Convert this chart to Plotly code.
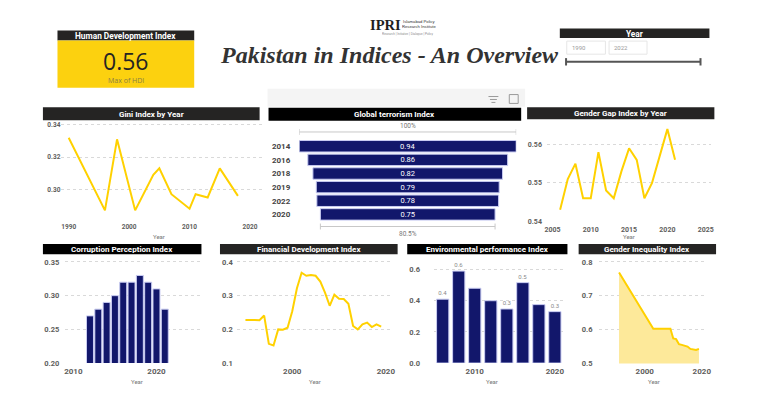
import plotly.graph_objects as go

W, H = 760, 393

# ---------------- data ----------------
hdi_max = 0.56

gini_years = [1990, 1996, 1998, 2001, 2004, 2005, 2007, 2010, 2011, 2013, 2015, 2018]
gini_values = [0.332, 0.287, 0.331, 0.287, 0.309, 0.313, 0.297, 0.288, 0.297, 0.295, 0.313, 0.296]

gti_years = ["2014", "2016", "2018", "2019", "2022", "2020"]
gti_values = [0.936, 0.862, 0.818, 0.789, 0.784, 0.7535]

ggi_years = list(range(2006, 2022))
ggi_values = [0.543, 0.551, 0.555, 0.546, 0.546, 0.558, 0.548, 0.546,
              0.553, 0.559, 0.556, 0.546, 0.550, 0.557, 0.564, 0.556]

cpi_years = list(range(2012, 2022))
cpi_values = [0.27, 0.28, 0.29, 0.30, 0.32, 0.32, 0.33, 0.32, 0.31, 0.28]

fdi_years = list(range(1990, 2020))
fdi_values = [0.228, 0.229, 0.228, 0.227, 0.241, 0.157, 0.152, 0.200, 0.199, 0.205,
              0.254, 0.322, 0.368, 0.359, 0.361, 0.359, 0.342, 0.309, 0.270, 0.303,
              0.291, 0.290, 0.276, 0.210, 0.200, 0.215, 0.220, 0.207, 0.215, 0.208]

epi_years = [2006, 2008, 2010, 2012, 2014, 2016, 2018, 2020]
epi_values = [0.41, 0.59, 0.48, 0.40, 0.347, 0.516, 0.375, 0.33]

gii_years = [1991, 2003, 2009, 2010, 2011, 2012, 2013, 2015, 2016, 2018, 2019]
gii_values = [0.769, 0.602, 0.602, 0.573, 0.571, 0.556, 0.554, 0.549, 0.542, 0.539, 0.542]

year_slicer = ["1990", "2022"]

# ---------------- style ----------------
YELLOW = "#FFD100"
NAVY = "#12176B"
HDR = "#252423"
FONT = "Roboto"
TICKC = "#605E5C"
GRID = "#D9D9D9"

# which EPI bars carry a data label (as in the source visual)
epi_label_on = [True, True, False, False, True, True, False, True]


def px_x(p):
    return p / W


def px_y(p):
    return 1 - p / H


def lin(p0, v0, p1, v1):
    return lambda p: v0 + (p - p0) * (v1 - v0) / (p1 - p0)


def xax(left, right, cal, **kw):
    f = lin(*cal)
    d = dict(domain=[px_x(left), px_x(right)], range=[f(left), f(right)],
             showgrid=False, zeroline=False, showline=False, ticks="",
             fixedrange=True)
    d.update(kw)
    return d


def yax(top, bottom, cal, **kw):
    f = lin(*cal)
    d = dict(domain=[px_y(bottom), px_y(top)], range=[f(bottom), f(top)],
             showgrid=True, gridcolor=GRID, griddash="dot", gridwidth=1,
             zeroline=False, showline=False, ticks="", fixedrange=True)
    d.update(kw)
    return d


def tf(size, color=TICKC, weight="bold"):
    return dict(family=FONT, size=size, color=color, weight=weight)


fig = go.Figure()

# 1 Gini
fig.add_trace(go.Scatter(x=gini_years, y=gini_values, mode="lines",
                         line=dict(color=YELLOW, width=2), xaxis="x", yaxis="y",
                         hoverinfo="skip"))
# 2 Global terrorism funnel
fig.add_trace(go.Funnel(y=gti_years, x=gti_values, xaxis="x2", yaxis="y2",
                        marker=dict(color=NAVY, line=dict(color="#C9CCF2", width=1)),
                        texttemplate="%{x:.2f}", textposition="inside",
                        insidetextanchor="middle", constraintext="none",
                        textfont=dict(family=FONT, size=7.5, color="white"),
                        connector=dict(visible=False), hoverinfo="skip"))
# 3 Gender gap
fig.add_trace(go.Scatter(x=ggi_years, y=ggi_values, mode="lines",
                         line=dict(color=YELLOW, width=2), xaxis="x3", yaxis="y3",
                         hoverinfo="skip"))
# 4 Corruption
fig.add_trace(go.Bar(x=cpi_years, y=cpi_values, width=0.84, xaxis="x4", yaxis="y4",
                     marker=dict(color=NAVY, line=dict(color="#C9CCF2", width=1)),
                     hoverinfo="skip"))
# 5 Financial development
fig.add_trace(go.Scatter(x=fdi_years, y=fdi_values, mode="lines",
                         line=dict(color=YELLOW, width=2), xaxis="x5", yaxis="y5",
                         hoverinfo="skip"))
# 6 Environmental performance
fig.add_trace(go.Bar(x=epi_years, y=epi_values, width=1.53, xaxis="x6", yaxis="y6",
                     marker=dict(color=NAVY, line=dict(color="#C9CCF2", width=1)),
                     text=[f"{v:.1f}" if on else "" for v, on in zip(epi_values, epi_label_on)],
                     textposition="outside", cliponaxis=False,
                     textfont=dict(family=FONT, size=6, color="#8A8A8A"),
                     hoverinfo="skip"))
# 7 Gender inequality
fig.add_trace(go.Scatter(x=gii_years, y=gii_values, mode="lines",
                         line=dict(color="#FFD000", width=2), fill="tozeroy",
                         fillcolor="#FDE99A", xaxis="x7", yaxis="y7",
                         hoverinfo="skip"))

# funnel geometry
slot = 13.84
f_top = 147.5 - slot / 2
f_bot = f_top + slot * len(gti_years)
half = gti_values[0] / 2

layout = dict(
    width=W, height=H, margin=dict(l=0, r=0, t=0, b=0),
    paper_bgcolor="white", plot_bgcolor="white", showlegend=False,
    funnelgap=0.16,
    xaxis=xax(60, 262, (67.3, 1990, 250.3, 2020), anchor="y",
              tickvals=[1990, 2000, 2010, 2020], tickfont=tf(6.5), ticklabelstandoff=2),
    yaxis=yax(122, 222, (125.7, 0.34, 191.3, 0.30), anchor="x",
              tickvals=[0.30, 0.32, 0.34], tickformat=".2f", tickfont=tf(6.5)),
    xaxis2=dict(domain=[px_x(300), px_x(519)], range=[-half, half], visible=False,
                anchor="y2", fixedrange=True),
    yaxis2=dict(domain=[px_y(f_bot), px_y(f_top)], type="category",
                range=[len(gti_years) - 0.5, -0.5], anchor="x2",
                showgrid=False, zeroline=False, showline=False, ticks="",
                tickfont=dict(family=FONT, size=8, color="#444444", weight="bold"),
                ticklabelstandoff=8, fixedrange=True),
    xaxis3=xax(550, 716, (563.3, 2006, 679.3, 2021), anchor="y3",
               tickvals=[2005, 2010, 2015, 2020, 2025], tickfont=tf(7), ticklabelstandoff=2),
    yaxis3=yax(124, 224, (145.7, 0.56, 223.7, 0.54), anchor="x3",
               tickvals=[0.54, 0.55, 0.56], tickformat=".2f", tickfont=tf(7),
               ticklabelstandoff=4),
    xaxis4=xax(64, 201, (88.8, 2012, 164.3, 2021), anchor="y4",
               tickvals=[2010, 2020], tickfont=tf(8), ticklabelstandoff=2),
    yaxis4=yax(262, 367.7, (265, 0.35, 367.7, 0.20), anchor="x4",
               tickvals=[0.20, 0.25, 0.30, 0.35], tickformat=".2f", tickfont=tf(7.5),
               ticklabelstandoff=5),
    xaxis5=xax(237, 393, (245.7, 1990, 382.7, 2019), anchor="y5",
               tickvals=[2000, 2020], tickfont=tf(8), ticklabelstandoff=2),
    yaxis5=yax(262, 368, (265, 0.4, 367.7, 0.1), anchor="x5",
               tickvals=[0.1, 0.2, 0.3, 0.4], tickformat=".1f", tickfont=tf(7.5),
               ticklabelstandoff=3),
    xaxis6=xax(436, 567, (444.8, 2006, 558, 2020), anchor="y6",
               tickvals=[2010, 2020], tickfont=tf(8), ticklabelstandoff=2),
    yaxis6=yax(266, 367.7, (272.7, 0.6, 367.7, 0.0), anchor="x6",
               tickvals=[0.0, 0.2, 0.4, 0.6], tickformat=".1f", tickfont=tf(7.5),
               ticklabelstandoff=13),
    xaxis7=xax(603, 711, (648.7, 2000, 706.3, 2020), anchor="y7",
               tickvals=[2000, 2020], tickfont=tf(8), ticklabelstandoff=2),
    yaxis7=yax(262, 368, (265, 0.8, 367.7, 0.5), anchor="x7",
               tickvals=[0.5, 0.6, 0.7, 0.8], tickformat=".1f", tickfont=tf(7.5),
               ticklabelstandoff=6),
)
fig.update_layout(**layout)

shapes = []
ann = []


def rect(x0, y0, x1, y1, fill, line=None, layer="below"):
    shapes.append(dict(type="rect", xref="paper", yref="paper",
                       x0=px_x(x0), x1=px_x(x1), y0=px_y(y1), y1=px_y(y0),
                       fillcolor=fill, line=dict(width=1 if line else 0, color=line or fill),
                       layer=layer))


def text(x, y, s, size, color, xanchor="center", family=FONT, weight="normal", height=None):
    a = dict(x=px_x(x), y=px_y(y), xref="paper", yref="paper", text=s,
             showarrow=False, xanchor=xanchor, yanchor="middle", borderpad=0,
             font=dict(family=family, size=size, color=color, weight=weight))
    if height:
        a["height"] = height
    ann.append(a)


def header(x0, x1, y0, y1, s, fill=HDR, size=8):
    rect(x0, y0, x1, y1, fill)
    text((x0 + x1) / 2, (y0 + y1) / 2 + 0.3, s, size, "white", weight="bold")


# HDI card
header(56, 194, 30, 40, "Human Development Index", size=8.3)
rect(56, 40, 194, 88, "#FCD10F")
text(125.5, 60.5, f"{hdi_max:.2f}", 23, "#252423", family="Open Sans", height=24)
text(125.5, 80.5, "Max of HDI", 7, "#8A7D45", family="Open Sans")

# Logo + title
text(387, 23.5, "<b>IPRI</b>", 14.5, "#1E1E1E", family="Liberation Serif", height=11)
text(403, 23.5, "Islamabad Policy<br>Research Institute", 4.2, "#333333", xanchor="left",
     family="Liberation Sans", height=10)
text(410, 34, "Research | Initiative | Dialogue | Policy", 3, "#888888",
     family="Liberation Sans", height=3.5)
text(391, 55, "<b><i>Pakistan in Indices - An Overview</i></b>", 24, "#333333",
     family="Liberation Serif", height=24)

# Year slicer
header(563, 714, 28, 37.5, "Year", size=8.3)
rect(570, 40.7, 609, 54, "white", line="#E6E6E6")
rect(612.7, 40.7, 651, 54, "white", line="#E6E6E6")
text(574, 47.5, year_slicer[0], 6, "#9A9A9A", xanchor="left")
text(616.7, 47.5, year_slicer[1], 6, "#9A9A9A", xanchor="left")
for seg in [(569.3, 61.7, 705, 61.7), (569.3, 58, 569.3, 65.5), (705, 58, 705, 65.5)]:
    shapes.append(dict(type="line", xref="paper", yref="paper",
                       x0=px_x(seg[0]), y0=px_y(seg[1]), x1=px_x(seg[2]), y1=px_y(seg[3]),
                       line=dict(color="#555555", width=2)))

# chart headers
header(41.3, 260, 108, 121, "Gini Index by Year")
rect(268, 89, 528, 107.5, "#F4F4F4")
header(269, 524, 108.3, 121.7, "Global terrorism Index", fill="#000000")
header(530, 719, 108, 120, "Gender Gap Index by Year")
header(41.3, 201.3, 246.7, 257.3, "Corruption Perception Index", fill="#000000")
header(220, 399.3, 246.7, 257.3, "Financial Development Index")
header(409, 570.7, 246.7, 257.3, "Environmental performance Index", fill="#000000")
header(582, 720.7, 246.7, 257.3, "Gender Inequality Index")

# visual header icons (filter + focus)
for (x0, x1, yy) in [(491, 501, 97), (492.5, 499.5, 100), (494, 498, 103)]:
    shapes.append(dict(type="line", xref="paper", yref="paper", x0=px_x(x0), x1=px_x(x1),
                       y0=px_y(yy), y1=px_y(yy), line=dict(color="#9A9A9A", width=1)))
rect(512, 95, 521, 104, "rgba(0,0,0,0)", line="#9A9A9A", layer="above")

# funnel brackets, derived from the first/last values
top_y, bot_y = 133, 229
for v, yy in [(gti_values[0], top_y), (gti_values[-1], bot_y)]:
    shapes.append(dict(type="line", xref="x2", yref="paper", x0=-v / 2, x1=v / 2,
                       y0=px_y(yy), y1=px_y(yy), line=dict(color="#C8C8C8", width=1)))
    for sx in (-v / 2, v / 2):
        shapes.append(dict(type="line", xref="x2", yref="paper", x0=sx, x1=sx,
                           y0=px_y(yy - 3), y1=px_y(yy + 3),
                           line=dict(color="#C8C8C8", width=1)))
text(410, 127, "100%", 6.5, "#777777")
text(410, 237, f"{100 * gti_values[-1] / gti_values[0]:.1f}%", 6.5, "#777777")

# axis titles
for (x, y) in [(158, 239), (633, 239), (136, 386), (316, 386), (495, 386), (658, 386)]:
    text(x, y, "Year", 6, "#777777")

fig.update_layout(shapes=shapes, annotations=ann)
fig.write_html("out.html", config={"displayModeBar": False},
               post_script="document.body.style.margin='0';"
                           "document.body.style.overflow='hidden';")
